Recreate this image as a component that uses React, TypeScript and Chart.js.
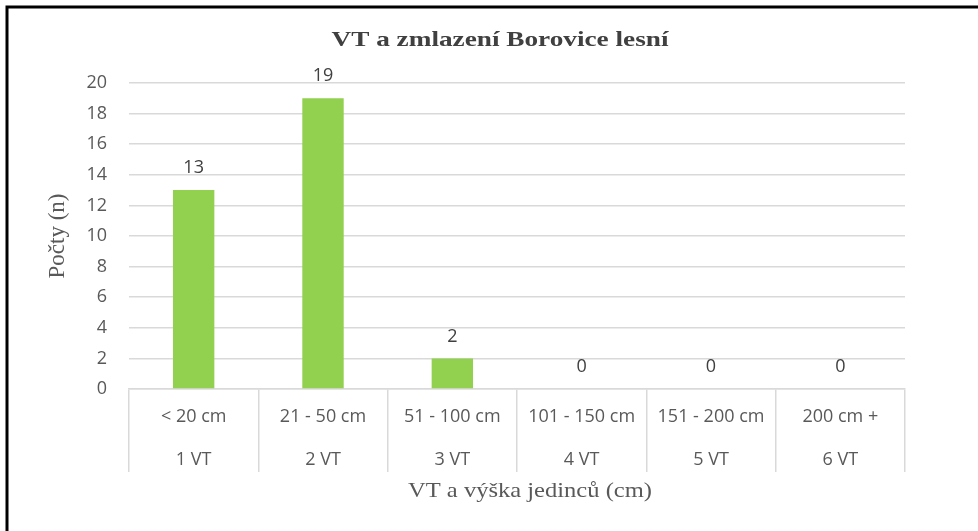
import React, { useEffect, useRef } from "react";
import { Chart, registerables } from "chart.js";

Chart.register(...registerables);

const heightClasses = ["< 20 cm", "21 - 50 cm", "51 - 100 cm", "101 - 150 cm", "151 - 200 cm", "200 cm +"];
const vtClasses = ["1 VT", "2 VT", "3 VT", "4 VT", "5 VT", "6 VT"];
const counts = [13, 19, 2, 0, 0, 0];
const chartTitle = "VT a zmlazení Borovice lesní";
const yTitle = "Počty (n)";
const xTitle = "VT a výška jedinců (cm)";

function stretchedText(ctx: any, text: string, cx: number, cy: number, targetW: number) {
  const w = ctx.measureText(text).width;
  const sx = targetW / w;
  ctx.save();
  ctx.translate(cx, cy);
  ctx.scale(sx, 1);
  ctx.fillText(text, 0, 0);
  ctx.restore();
}

const decorPlugin = {
  id: "decor",
  beforeDraw(chart: any) {
    const ctx = chart.ctx;
    ctx.save();
    ctx.fillStyle = "#ffffff";
    ctx.fillRect(0, 0, chart.width, chart.height);
    ctx.restore();
  },
  afterDraw(chart: any) {
    const ctx = chart.ctx;
    const area = chart.chartArea;
    ctx.save();
    // frame
    ctx.strokeStyle = "#000000";
    ctx.lineWidth = 3;
    ctx.strokeRect(7, 7, 1200, 1200);
    // chart title
    ctx.fillStyle = "#404040";
    ctx.font = "bold 21px 'Liberation Serif'";
    ctx.textAlign = "center";
    ctx.textBaseline = "middle";
    stretchedText(ctx, chartTitle, 500, 41, 337);
    // y title
    ctx.fillStyle = "#595959";
    ctx.font = "23px 'Liberation Serif'";
    ctx.save();
    ctx.translate(58, 236);
    ctx.rotate(-Math.PI / 2);
    ctx.fillText(yTitle, 0, 0);
    ctx.restore();
    // x title
    ctx.font = "21px 'Liberation Serif'";
    stretchedText(ctx, xTitle, 530, 491, 244);
    // data labels
    const meta = chart.getDatasetMeta(0);
    ctx.font = "18px 'Open Sans'";
    ctx.fillStyle = "#404040";
    meta.data.forEach((bar: any, i: number) => {
      ctx.fillText(String(counts[i]), bar.x, bar.y - 22);
    });
    ctx.restore();
  },
};

export default function App() {
  const ref = useRef<HTMLCanvasElement>(null);
  useEffect(() => {
    if (!ref.current) return;
    const labels = heightClasses.map((h, i) => [h, vtClasses[i]]);
    const chart = new Chart(ref.current, {
      type: "bar",
      data: {
        labels,
        datasets: [
          {
            data: counts,
            backgroundColor: "#92D050",
            barPercentage: 0.32,
            categoryPercentage: 1,
          },
        ],
      },
      options: {
        animation: false,
        responsive: false,
        layout: { padding: { left: 40, right: 73, top: 83, bottom: 0 } },
        plugins: { legend: { display: false }, tooltip: { enabled: false }, title: { display: false } },
        scales: {
          x: {
            grid: {
              drawOnChartArea: false,
              drawTicks: true,
              tickLength: 83,
              tickColor: "#d9d9d9",
              lineWidth: 1.5,
              offset: true,
            },
            border: { display: true, color: "#d9d9d9", width: 1.5 },
            ticks: {
              padding: 6.5 - 83,
              color: "#595959",
              font: { family: "'Open Sans'", size: 18, lineHeight: "43px" },
              maxRotation: 0,
              autoSkip: false,
            },
            afterFit(s: any) {
              s.height = 142;
            },
          },
          y: {
            min: 0,
            max: 20,
            ticks: {
              stepSize: 2,
              padding: 22,
              color: "#595959",
              font: { family: "'Open Sans'", size: 18 },
            },
            grid: { color: "#d9d9d9", drawTicks: false, lineWidth: 1.5 },
            border: { display: false },
            afterFit(s: any) {
              s.width = 89;
            },
          },
        },
      },
      plugins: [decorPlugin],
    });
    return () => chart.destroy();
  }, []);
  return (
    <div style={{ position: "fixed", left: 0, top: 0, width: 978, height: 531, background: "#fff" }}>
      <canvas ref={ref} width={978} height={531} style={{ width: 978, height: 531, display: "block" }} />
    </div>
  );
}
